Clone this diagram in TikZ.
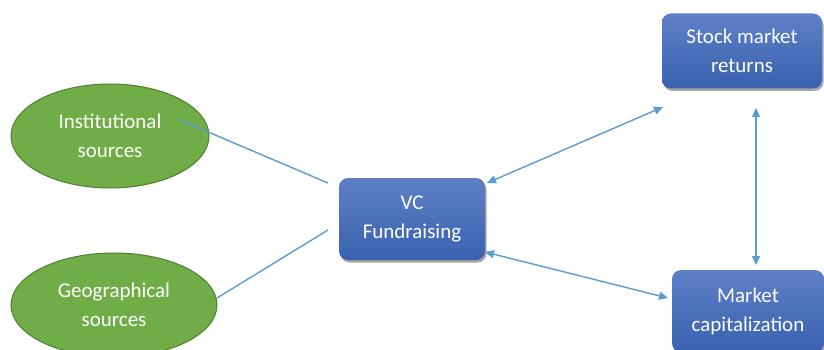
\documentclass[tikz,border=0pt]{standalone}
\usepackage{fontspec}
\setmainfont{Carlito}
\usetikzlibrary{shadows,arrows.meta,shapes.geometric}
\definecolor{ellfill}{HTML}{70AD47}
\definecolor{elldraw}{HTML}{507E32}
\definecolor{boxtop}{HTML}{5E7FC6}
\definecolor{boxbot}{HTML}{3962AF}
\definecolor{linec}{HTML}{5B9BD5}
\tikzset{
  ell/.style={ellipse, fill=ellfill, draw=elldraw, line width=1pt, text=white, align=center, inner sep=0pt},
  bx/.style={rectangle, rounded corners=9pt, top color=boxtop, bottom color=boxbot, draw=none, text=white, align=center,
    drop shadow={shadow xshift=1.5pt, shadow yshift=-2.5pt, opacity=0.35, fill=black}},
  conn/.style={draw=linec, line width=1.4pt},
  biarrow/.style={conn, {Triangle[length=9pt,width=8pt]}-{Triangle[length=9pt,width=8pt]}},
  lbl/.style={font=\fontsize{21}{29}\selectfont}
}
\begin{document}
\begin{tikzpicture}[x=1pt,y=-1pt]
\useasboundingbox (0,0) rectangle (824,350);
\node[ell, minimum width=198pt, minimum height=104pt, lbl] (inst) at (110,136) {Institutional\\sources};
\node[ell, minimum width=206pt, minimum height=104pt, lbl] (geo) at (114,305) {Geographical\\sources};
\node[bx, minimum width=146pt, minimum height=82pt, lbl] (vc) at (412,219) {VC\\Fundraising};
\node[bx, minimum width=160pt, minimum height=75pt, lbl] (stock) at (742,51) {Stock market\\returns};
\node[bx, minimum width=152pt, minimum height=82pt, lbl] (cap) at (748,311) {Market\\capitalization};
\coordinate (i1) at (180,120);
\coordinate (i2) at (328,183);
\coordinate (g1) at (217,298);
\coordinate (g2) at (328,230);
\coordinate (vs1) at (487,183);
\coordinate (vs2) at (663,107);
\coordinate (vm1) at (485,252);
\coordinate (vm2) at (668,298);
\coordinate (sm1) at (756,108);
\coordinate (sm2) at (756,265);
\draw[conn] (i1) -- (i2);
\draw[conn] (g1) -- (g2);
\draw[biarrow] (vs1) -- (vs2);
\draw[biarrow] (vm1) -- (vm2);
\draw[biarrow] (sm1) -- (sm2);
\end{tikzpicture}
\end{document}
